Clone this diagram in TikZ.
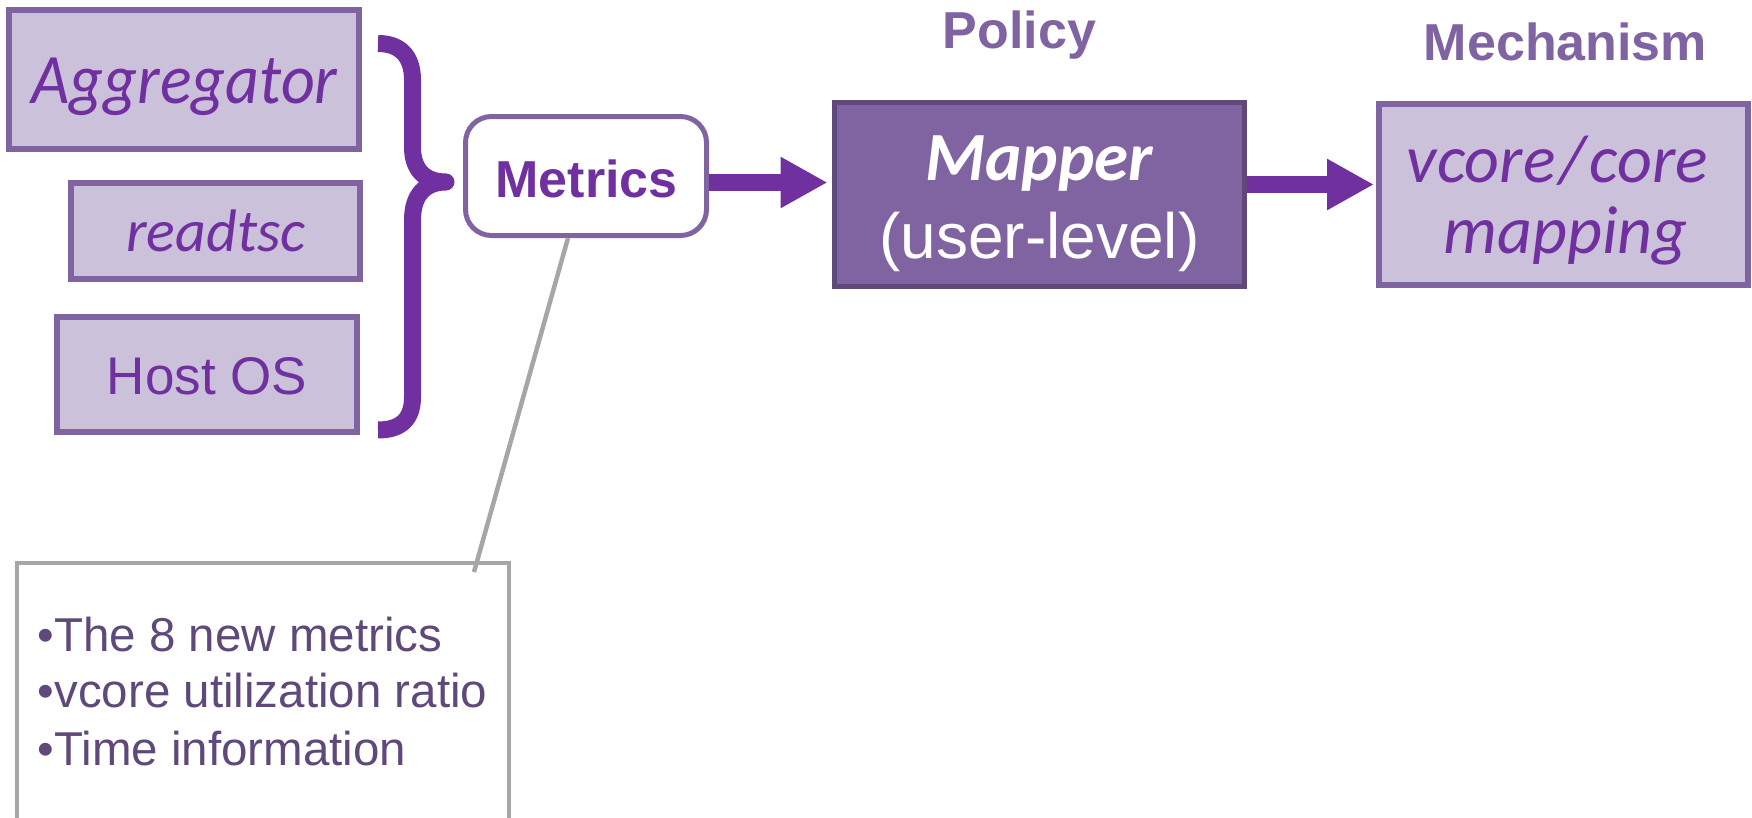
\documentclass[tikz,border=0pt]{standalone}
\usepackage{fontspec}
\setmainfont{Liberation Sans}
\newfontfamily\calib{Carlito}
\usetikzlibrary{arrows.meta}

\definecolor{lav}{HTML}{CCC1DA}
\definecolor{lavedge}{HTML}{8064A2}
\definecolor{plum}{HTML}{7030A0}
\definecolor{mapfill}{HTML}{8064A2}
\definecolor{mapedge}{HTML}{5F497A}
\definecolor{notetext}{HTML}{5F497A}
\definecolor{greyline}{HTML}{A6A6A6}

\begin{document}
\begin{tikzpicture}[x=1pt,y=-1pt,
  srcbox/.style={draw=lavedge, fill=lav, line width=6pt, inner sep=0pt},
  mapbox/.style={draw=mapedge, fill=mapfill, line width=5pt, inner sep=0pt},
  metbox/.style={draw=lavedge, fill=white, line width=5pt, rounded corners=26pt, inner sep=0pt},
  notebox/.style={draw=greyline, line width=4pt, inner sep=0pt},
  lbl/.style={anchor=base, inner sep=0pt},
  ital/.style={lbl, text=plum, font={\calib\itshape\fontsize{68}{80}\selectfont}},
  sans/.style={lbl, text=plum, font={\fontsize{53}{62}\selectfont}},
  head/.style={lbl, text=lavedge, font={\bfseries\fontsize{52}{62}\selectfont}},
  notes/.style={anchor=base west, inner sep=0pt, text=notetext, font={\fontsize{47.5}{57}\selectfont}},
  flow/.style={plum, line width=17pt, -{Triangle[length=47pt,width=48pt]}},
  leader/.style={greyline, line width=4.5pt}
]
\useasboundingbox (0,0) rectangle (1752,817);
\clip (0,0) rectangle (1752,817);

% data sources
\node[srcbox, minimum width=350, minimum height=139] (agg) at (184,79.5) {};
\node[srcbox, minimum width=289, minimum height=96] (tsc) at (215.5,231) {};
\node[srcbox, minimum width=300, minimum height=115] (host) at (207,374.5) {};
\node[ital, font={\calib\itshape\fontsize{71}{80}\selectfont}, xscale=0.93] (aggT) at (184.5,103) {Aggregator};
\node[ital, font={\calib\itshape\fontsize{60}{70}\selectfont}] (tscT) at (216,251) {readtsc};
\node[sans] (hostT) at (207,394) {Host OS};

% curly brace gathering the sources
\draw[plum, line width=17pt, line join=round]
  (378,43.5) .. controls (400,43.5) and (412.5,56) .. (412.5,80)
  -- (412.5,147) .. controls (412.5,170) and (425,182) .. (446,182)
  .. controls (425,182) and (412.5,195) .. (412.5,220)
  -- (412.5,397) .. controls (412.5,420) and (400,430) .. (378,430);

% metrics
\node[metbox, minimum width=241, minimum height=119] (metrics) at (586,176) {};
\node[lbl, text=plum, font={\bfseries\fontsize{52}{62}\selectfont}] (metricsT) at (586.5,197) {Metrics};

% policy: mapper
\node[head] (policy) at (1019.5,48) {Policy};
\node[mapbox, minimum width=410, minimum height=184] (mapper) at (1039,194) {};
\node[lbl, text=white, font={\calib\bfseries\itshape\fontsize{69}{80}\selectfont}] (mapperT) at (1039,180) {Mapper};
\node[lbl, text=white, font={\fontsize{64}{74}\selectfont}] (levelT) at (1039.5,258) {(user-level)};

% mechanism
\node[head] (mechanism) at (1565.5,60) {Mechanism};
\node[srcbox, minimum width=369, minimum height=181] (mech) at (1563.5,194.5) {};
\node[ital] (vcoreT) at (1557.5,182) {vcore\hspace{4pt}/\hspace{4pt}core};
\node[ital] (mappingT) at (1565.5,253) {mapping};

% flow arrows
\coordinate (arrA) at (0,182.5);
\coordinate (arrB) at (0,184.5);
\draw[flow, shorten >=4pt] (metrics.east |- arrA) -- (mapper.west |- arrA);
\draw[flow, shorten >=2pt] (mapper.east |- arrB) -- (mech.west |- arrB);

% callout with the metric list
\node[notebox, minimum width=492, minimum height=267] (note) at (263,696.5) {};
\coordinate (leadTop) at (568,0);
\coordinate (leadEnd) at (474,572);
\draw[leader] (metrics.south -| leadTop) -- (leadEnd);
\node[notes] (n1) at (37.5,651) {•The 8 new metrics};
\node[notes] (n2) at (37.5,707) {•vcore utilization ratio};
\node[notes] (n3) at (37.5,765) {•Time information};
\end{tikzpicture}
\end{document}
